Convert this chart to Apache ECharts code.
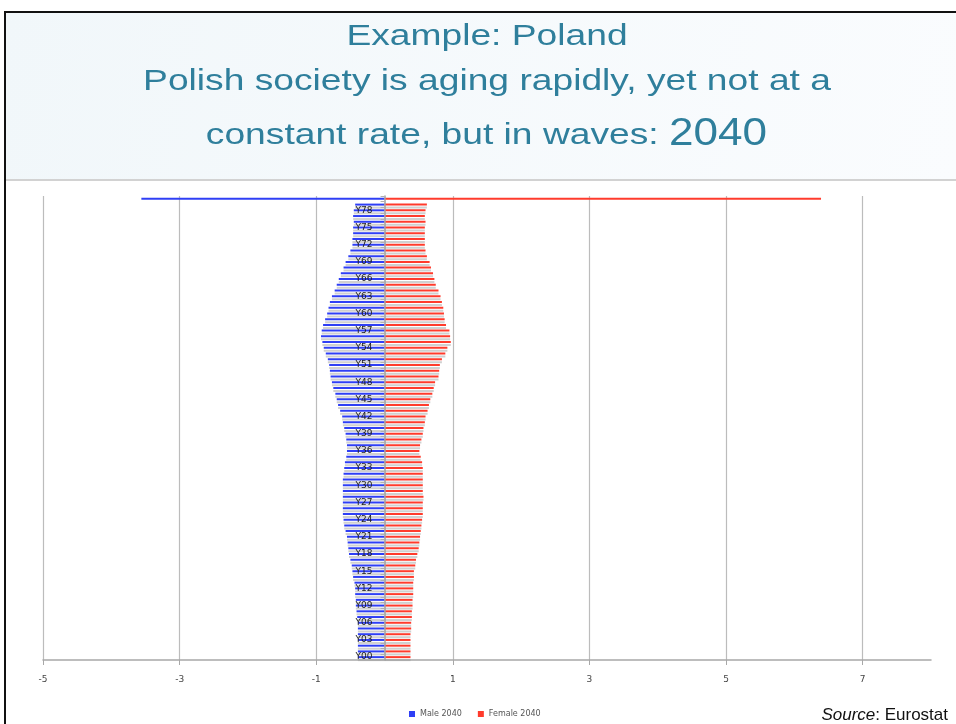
<!DOCTYPE html>
<html>
<head>
<meta charset="utf-8">
<title>Poland 2040 population pyramid</title>
<script src="https://cdn.jsdelivr.net/npm/echarts@6/dist/echarts.min.js"></script>
<style>
  html, body { margin: 0; padding: 0; background: #ffffff; }
  #chart { width: 956px; height: 724px; }
</style>
</head>
<body>
<div id="chart"></div>
<script>
// Age groups, youngest first; the last group is 80 and over.
const ageGroups = [
  'Y00','Y01','Y02','Y03','Y04','Y05','Y06','Y07','Y08','Y09',
  'Y10','Y11','Y12','Y13','Y14','Y15','Y16','Y17','Y18','Y19',
  'Y20','Y21','Y22','Y23','Y24','Y25','Y26','Y27','Y28','Y29',
  'Y30','Y31','Y32','Y33','Y34','Y35','Y36','Y37','Y38','Y39',
  'Y40','Y41','Y42','Y43','Y44','Y45','Y46','Y47','Y48','Y49',
  'Y50','Y51','Y52','Y53','Y54','Y55','Y56','Y57','Y58','Y59',
  'Y60','Y61','Y62','Y63','Y64','Y65','Y66','Y67','Y68','Y69',
  'Y70','Y71','Y72','Y73','Y74','Y75','Y76','Y77','Y78','Y79',
  'Y_GE80'
];

// Share of population (%), males plotted to the left.
const male2040 = [
  -0.39,-0.39,-0.39,-0.39,-0.39,-0.39,-0.39,-0.40,-0.41,-0.42,
  -0.42,-0.43,-0.43,-0.44,-0.46,-0.47,-0.48,-0.50,-0.52,-0.53,
  -0.54,-0.55,-0.57,-0.59,-0.60,-0.61,-0.61,-0.61,-0.61,-0.61,
  -0.61,-0.61,-0.60,-0.59,-0.58,-0.56,-0.55,-0.55,-0.56,-0.57,
  -0.59,-0.61,-0.62,-0.65,-0.68,-0.70,-0.72,-0.75,-0.77,-0.79,
  -0.80,-0.81,-0.83,-0.86,-0.89,-0.91,-0.93,-0.92,-0.90,-0.87,
  -0.84,-0.82,-0.80,-0.77,-0.73,-0.70,-0.67,-0.64,-0.60,-0.57,
  -0.53,-0.50,-0.47,-0.47,-0.46,-0.46,-0.45,-0.46,-0.45,-0.43,
  -3.56
];

const female2040 = [
  0.38,0.38,0.38,0.38,0.38,0.39,0.39,0.40,0.40,0.41,
  0.41,0.42,0.42,0.42,0.43,0.43,0.45,0.46,0.48,0.50,
  0.51,0.52,0.53,0.54,0.55,0.56,0.56,0.56,0.57,0.56,
  0.56,0.56,0.56,0.56,0.55,0.53,0.51,0.52,0.54,0.56,
  0.57,0.59,0.60,0.63,0.65,0.67,0.70,0.72,0.74,0.79,
  0.80,0.81,0.84,0.89,0.92,0.97,0.96,0.95,0.90,0.88,
  0.87,0.86,0.84,0.82,0.79,0.75,0.73,0.71,0.68,0.66,
  0.62,0.60,0.59,0.59,0.59,0.59,0.60,0.59,0.60,0.62,
  6.39
];

const seriesNames = ['Male 2040', 'Female 2040'];
const xTicks = { min: -5, max: 8, step: 2 };

const titleColor = '#2f7f9c';
const titleFont = '"Liberation Sans", Arial, sans-serif';
const gridLeft = 43;

const chart = echarts.init(document.getElementById('chart'), null, { renderer: 'canvas' });

// thin bars with a faint grey trace underneath each one
const barStyle = (color) => ({
  color: color,
  shadowColor: 'rgba(150,150,150,0.45)',
  shadowBlur: 0,
  shadowOffsetY: 3
});

// the open-ended top group is drawn without the trace
const withPlainLast = (values) => values.map((v, i) =>
  i === values.length - 1
    ? { value: v, itemStyle: { shadowColor: 'rgba(0,0,0,0)', shadowOffsetY: 0 } }
    : v
);

chart.setOption({
  animation: false,
  backgroundColor: '#ffffff',
  graphic: [
    // slide header panel
    {
      type: 'rect', z: 0, silent: true,
      shape: { x: 5, y: 12, width: 951, height: 168 },
      style: {
        fill: new echarts.graphic.LinearGradient(0, 0, 1, 1, [
          { offset: 0, color: '#f1f7fa' },
          { offset: 1, color: '#fafcfe' }
        ])
      }
    },
    { type: 'line', silent: true, shape: { x1: 5, y1: 180, x2: 956, y2: 180 },
      style: { stroke: '#d2d2d2', lineWidth: 2 } },
    // slide frame
    { type: 'line', silent: true, shape: { x1: 4, y1: 12, x2: 956, y2: 12 },
      style: { stroke: '#111111', lineWidth: 2 } },
    { type: 'line', silent: true, shape: { x1: 5, y1: 11, x2: 5, y2: 724 },
      style: { stroke: '#111111', lineWidth: 2 } },
    // heading
    {
      type: 'text', x: 487, y: 52, scaleX: 1.24, silent: true,
      style: { text: 'Example: Poland', fill: titleColor, font: '30px ' + titleFont,
               align: 'center', verticalAlign: 'bottom' }
    },
    {
      type: 'text', x: 487, y: 97, scaleX: 1.24, silent: true,
      style: { text: 'Polish society is aging rapidly, yet not at a', fill: titleColor,
               font: '30px ' + titleFont, align: 'center', verticalAlign: 'bottom' }
    },
    {
      type: 'text', x: 669, y: 151, scaleX: 1.24, silent: true,
      style: { text: 'constant rate, but in waves: ', fill: titleColor,
               font: '30px ' + titleFont, align: 'right', verticalAlign: 'bottom' }
    },
    {
      type: 'text', x: 669, y: 154, scaleX: 1.16, silent: true,
      style: { text: '2040', fill: titleColor,
               font: '38px ' + titleFont, align: 'left', verticalAlign: 'bottom' }
    },
    // source note
    {
      type: 'text', x: 948, y: 724, silent: true,
      style: {
        text: '{i|Source}: Eurostat',
        fill: '#111111',
        font: '17px ' + titleFont,
        align: 'right', verticalAlign: 'bottom',
        rich: { i: { fontStyle: 'italic', fontSize: 17, fontFamily: titleFont, fill: '#111111' } }
      }
    }
  ],
  legend: {
    data: seriesNames,
    left: 404,
    top: 705,
    icon: 'rect',
    itemWidth: 6,
    itemHeight: 6,
    itemGap: 16,
    textStyle: { fontSize: 8, color: '#555', fontFamily: '"DejaVu Sans", sans-serif' }
  },
  grid: { left: gridLeft, right: 25, top: 196, bottom: 64, containLabel: false },
  xAxis: {
    type: 'value',
    min: xTicks.min,
    max: xTicks.max,
    interval: xTicks.step,
    axisLine: { show: true, lineStyle: { color: '#a8a8a8', width: 1.5 } },
    axisTick: { show: true, length: 5, lineStyle: { color: '#a8a8a8' } },
    axisLabel: {
      showMaxLabel: false,
      margin: 15,
      fontSize: 9,
      color: '#444',
      fontFamily: '"DejaVu Sans", sans-serif',
      formatter: (v) => (v === xTicks.max ? '' : String(v))
    },
    splitLine: { show: true, showMaxLine: false, lineStyle: { color: '#bcbcbc', width: 1.2 } }
  },
  yAxis: {
    type: 'category',
    data: ageGroups,
    z: 5,
    axisLine: { show: true, onZero: false, lineStyle: { color: '#a0a0a0', width: 1.5 } },
    axisTick: { show: true, length: 4, interval: 0, lineStyle: { color: '#b0b0b0' } },
    axisLabel: {
      interval: 2,
      margin: 12,
      fontSize: 9,
      color: '#222',
      fontFamily: '"DejaVu Sans", sans-serif'
    },
    splitLine: { show: false }
  },
  series: [
    {
      name: seriesNames[0],
      type: 'bar',
      stack: 'pyramid',
      barWidth: 2,
      data: withPlainLast(male2040),
      itemStyle: barStyle('#2f3ff5')
    },
    {
      name: seriesNames[1],
      type: 'bar',
      stack: 'pyramid',
      barWidth: 2,
      data: withPlainLast(female2040),
      itemStyle: barStyle('#ff3b2c')
    }
  ]
});

// move the age axis (line, ticks and labels) onto the zero of the value axis
const zeroX = chart.convertToPixel({ xAxisIndex: 0 }, 0);
chart.setOption({ yAxis: { offset: gridLeft - zeroX } });
</script>
</body>
</html>
